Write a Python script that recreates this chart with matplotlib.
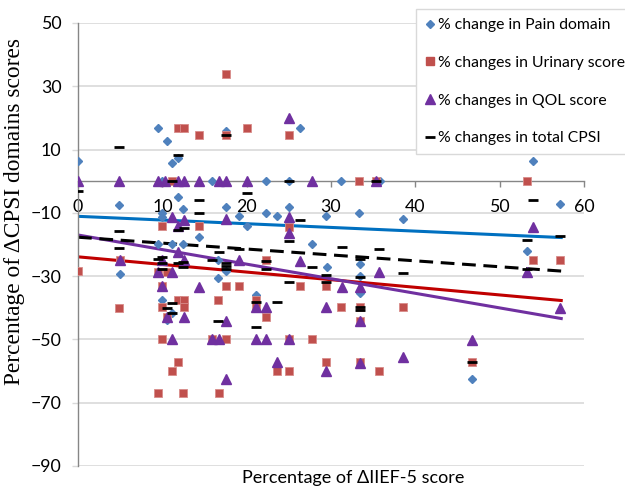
import matplotlib
matplotlib.use("Agg")
import matplotlib.pyplot as plt
from matplotlib.lines import Line2D

# % change in Pain domain (blue diamonds)
pain_x = [0, 9.5, 10.5, 11.1, 11.8, 10.0, 15.9, 17.6, 11.8, 4.9, 12.5, 10.0, 10.0, 17.6,
          19.1, 20.0, 14.3, 9.5, 11.1, 12.4, 16.6, 17.6, 16.6, 10.0, 11.1, 10.6, 5.0, 21.1,
          26.3, 22.3, 25.0, 31.2, 35.8, 22.3, 23.6, 25.0, 29.4, 33.3, 38.5, 27.8, 29.5,
          33.4, 33.4, 33.4, 53.9, 57.2, 53.3, 46.7]
pain_y = [6.3, 16.8, 12.7, 5.8, 7.4, 0, 0, 15.8, -5.0, -7.6, -8.9, -9.9, -11.2, -8.2,
          -11.0, -14.2, -17.5, -19.8, -19.8, -19.8, -25.0, -28.3, -30.7, -37.4, -41.6, -43.9, -29.4, -36.0,
          16.8, 0, 0, 0, 0, -9.9, -11.0, -8.3, -11.0, -9.9, -11.8, -19.7, -27.1,
          -26.2, -29.9, -35.2, 6.3, -7.1, -22.1, -62.6]

# % changes in Urinary score (red squares)
urinary_x = [17.6, 11.8, 12.6, 20.0, 14.3, 17.6, 11.2, 10.0, 14.3, 25.0, 33.3, 35.3, 25.0,
             0, 5.0, 4.9, 9.5, 10.5, 10.0, 11.9, 12.6, 10.0, 12.6, 10.6, 10.0, 17.6, 15.9,
             11.8, 11.2, 9.5, 12.5, 16.7, 17.6, 19.1, 16.6, 21.1, 21.1, 22.3, 26.3, 29.4,
             31.2, 33.4, 38.5, 22.3, 33.4, 25.0, 27.8, 29.4, 33.4, 23.6, 25.0, 35.7,
             53.3, 53.9, 57.2, 46.7]
urinary_y = [33.8, 16.8, 16.8, 16.8, 14.5, 14.5, 0, -14.2, -14.2, 14.5, 0, 0, -14.4,
             -28.4, -25.0, -40.0, -28.6, -28.6, -33.2, -37.4, -37.4, -39.9, -39.9, -43.0, -50.0, -50.0, -50.0,
             -57.1, -60.1, -66.8, -66.8, -66.8, -33.2, -33.2, -37.4, -37.4, -39.9, -24.9, -33.2, -33.2,
             -39.9, -39.9, -39.9, -42.9, -44.2, -50.0, -50.0, -57.2, -57.2, -60.1, -60.1, -60.1,
             0, -25.0, -25.0, -57.2]

# % changes in QOL score (purple triangles)
qol_x = [0, 4.9, 9.5, 10.3, 11.8, 12.6, 14.3, 16.7, 17.6, 20.0, 27.7, 35.3,
         25.0, 11.1, 11.8, 12.6, 17.6, 10.0, 11.8, 5.0, 9.5, 11.1, 12.6, 19.1, 10.0, 14.3,
         10.5, 12.6, 11.2, 15.9, 16.7, 21.1, 17.6, 21.1, 17.6, 25.0, 25.0, 26.3, 33.4, 35.7,
         31.3, 22.3, 29.4, 33.4, 22.3, 25.0, 23.6, 29.4, 33.4, 38.5, 53.9, 53.3, 57.2, 46.7]
qol_y = [0, 0, 0, 0, 0, 0, 0, 0, 0, 0, 0, 0,
         20.1, -11.2, -14.3, -12.3, -12.1, -24.8, -22.3, -25.0, -28.6, -28.6, -25.0, -24.8, -33.2, -33.3,
         -42.8, -43.0, -50.0, -50.0, -50.0, -50.0, -62.6, -39.9, -44.2, -11.3, -16.5, -25.1, -33.4, -28.6,
         -33.4, -39.9, -39.9, -44.2, -50.0, -50.0, -57.2, -60.1, -57.3, -55.5, -14.4, -28.7, -40.0, -50.2]

# % changes in total CPSI (black dashes)
total_x = [0, 4.9, 11.8, 11.1, 14.3, 14.3, 20.0, 17.6, 4.9, 12.6, 4.9, 11.8, 10.0, 10.0,
           11.8, 12.5, 15.9, 17.6, 17.6, 17.6, 10.0, 12.5, 11.2, 10.6, 11.2, 16.6, 9.5, 16.7,
           19.1, 21.1, 21.1, 25.0, 26.3, 25.0, 27.7, 31.3, 35.7, 35.3, 22.3, 22.3, 29.4, 29.4,
           33.4, 33.4, 25.0, 38.5, 23.6, 33.4, 33.4, 53.9, 53.3, 57.2, 46.7, 53.3]
total_y = [-3.0, 10.8, 8.4, 0, -5.8, -10.2, -3.8, 14.5, -15.6, -14.8, -21.0, -15.5, -23.8, -26.0,
           -26.0, -25.5, -24.8, -26.0, -26.9, -27.8, -27.9, -27.1, -38.4, -40.0, -41.6, -44.2, -24.7, -22.3,
           -21.3, -38.1, -46.1, 0, -12.2, -18.9, -27.1, -20.9, -21.3, 0, -25.2, -27.6, -29.8, -31.8,
           -24.7, -30.2, -31.9, -29.0, -38.1, -39.9, -40.8, -6.0, -18.6, -17.4, -57.2, -27.6]

# linear trend lines (end values)
trend_x = [0, 57.3]
trend_pain = [-11.1, -17.8]
trend_urinary = [-23.9, -37.7]
trend_qol = [-17.0, -43.4]
trend_total = [-17.7, -28.4]

labels = ["% change in Pain domain", "% changes in Urinary score",
          "% changes in QOL score", "% changes in total CPSI"]

BLUE, RED, PURPLE = "#4F81BD", "#C0504D", "#7030A0"
SANS = ["Lato", "DejaVu Sans"]

fig = plt.figure(figsize=(6.25, 4.88), dpi=100)
ax = fig.add_axes([0.1248, 0.0451, 0.8096, 0.9078])

ax.plot(pain_x, pain_y, ls="none", marker="D", ms=4.2, color=BLUE, zorder=3)
ax.plot(urinary_x, urinary_y, ls="none", marker="s", ms=6.4, color=RED, mec="#D88C8A", mew=0.6, zorder=3)
ax.plot(qol_x, qol_y, ls="none", marker="^", ms=6.5, color=PURPLE, zorder=3)
ax.plot(total_x, total_y, ls="none", marker="_", ms=6.5, mew=2, color="black", zorder=4)

ax.plot(trend_x, trend_pain, color="#0070C0", lw=2.2, zorder=2)
ax.plot(trend_x, trend_urinary, color="#C00000", lw=2.2, zorder=2)
ax.plot(trend_x, trend_qol, color="#7030A0", lw=2.2, zorder=2)
ax.plot(trend_x, trend_total, color="black", lw=2.2, ls=(0, (4.5, 2.5)), zorder=2)

ax.set_xlim(0, 60)
ax.set_ylim(-90, 50)
ax.set_xticks(range(0, 61, 10))
ax.set_yticks(range(-90, 51, 20))

for side in ("top", "right"):
    ax.spines[side].set_visible(False)
ax.spines["bottom"].set_position(("data", 0))
for side in ("left", "bottom"):
    ax.spines[side].set_color("#868686")
    ax.spines[side].set_linewidth(1)

ax.yaxis.grid(True, color="#D9D9D9", lw=1.2)
ax.set_axisbelow(True)
ax.tick_params(axis="x", direction="out", length=4, width=1, color="#868686", pad=9,
               labelsize=12.8)
ax.tick_params(axis="y", direction="out", length=4, width=1, color="#D9D9D9", pad=8,
               labelsize=12.8)
for t in ax.get_xticklabels() + ax.get_yticklabels():
    t.set_fontfamily(SANS)

fig.text(0.024, 1 - 212 / 488, "Percentage of \u0394CPSI domains scores", rotation=90,
         ha="center", va="center", family="Liberation Serif", fontsize=16.8)
fig.text(353 / 625, 1 - 470 / 488, "Percentage of \u0394IIEF-5 score", ha="center", va="top",
         family=SANS, fontsize=13)

handles = [
    Line2D([], [], ls="none", marker="D", ms=4.2, color=BLUE),
    Line2D([], [], ls="none", marker="s", ms=6.4, color=RED),
    Line2D([], [], ls="none", marker="^", ms=6.5, color=PURPLE),
    Line2D([], [], ls="none", marker="_", ms=6.5, mew=2, color="black"),
]
leg = fig.legend(handles, labels, loc="upper left", bbox_to_anchor=(416 / 625, 1 - 9 / 488),
                 bbox_transform=fig.transFigure, frameon=True, fancybox=False,
                 edgecolor="#D9D9D9", framealpha=1, handlelength=0.6, handletextpad=0.2,
                 borderpad=0.6, labelspacing=1.5, borderaxespad=0,
                 prop={"family": SANS, "size": 11.3})
leg.get_frame().set_linewidth(1)

fig.savefig("out.png", dpi=100)
